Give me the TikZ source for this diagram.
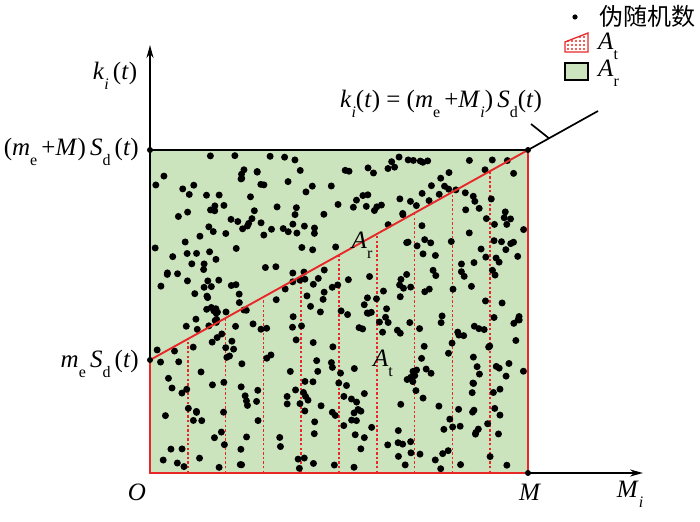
\documentclass[tikz,border=0pt]{standalone}
\usepackage{fontspec}
\setmainfont{Liberation Serif}
\newfontfamily\cjk{Noto Sans CJK SC}
\usetikzlibrary{arrows.meta,calc}
\definecolor{areagreen}{RGB}{204,228,190}
\definecolor{lred}{RGB}{232,40,40}
\newcommand{\sbs}[1]{\raisebox{-0.4em}{\fontsize{16}{16}\selectfont #1}}
\newcommand{\iv}[1]{\textit{#1}}
\begin{document}
\begin{tikzpicture}[x=1pt,y=-1pt,
  lab/.style={font=\fontsize{25}{28}\selectfont, inner sep=0pt},
  axis/.style={line width=1.6pt,-{Stealth[length=13pt,width=7pt]}},
  redline/.style={draw=lred,line width=1.9pt},
  reddot/.style={draw=lred,line width=1.5pt,dash pattern=on 2.4pt off 2.2pt},
  blk/.style={circle,fill=black,inner sep=0pt,minimum size=6pt}]
\useasboundingbox (0,0) rectangle (700,521);
% key points
\coordinate (O) at (150,473);
\coordinate (M) at (528,473);
\coordinate (T) at (528,150);
\coordinate (L) at (150,150);
\coordinate (me) at (150,360);
\coordinate (ext) at (598,111);
\coordinate (ytip) at (150,45);
\coordinate (xtip) at (643,473);
% green area
\fill[areagreen] (L) rectangle (M);
% dotted verticals
\foreach \k in {1,...,9}{
  \draw[reddot] ($(O)!\k/10!(M)$) -- ($(me)!\k/10!(T)$);
}
% random dots (kept clear of the two area labels)
\pgfmathsetseed{2024}
\foreach \i in {1,...,430}{
  \pgfmathsetmacro\px{154+370*rnd}
  \pgfmathsetmacro\py{155+314*rnd}
  \pgfmathtruncatemacro\dskip{((\px>338)&&(\px<386)&&(\py>222)&&(\py<268)) || ((\px>360)&&(\px<406)&&(\py>340)&&(\py<386)) ? 1 : 0}
  \ifnum\dskip=0 \fill (\px,\py) circle (3.5);\fi
}
% boundaries
\draw[line width=2.2pt] (L) -- (T);
\draw[redline] (me) -- (O) -- (M) -- (T);
% axes
\draw[axis] (O) -- (ytip);
\draw[axis] (O) -- (xtip);
\draw[redline] (O) -- (M);
\draw[redline] (me) -- (O);
% line
\draw[redline] (me) -- (T);
\draw[line width=1.7pt] (T) -- (ext);
\coordinate (lp) at ($(T)!0.3!(ext)$);
\coordinate (lq) at (531,124);
\draw[line width=1.7pt] (lp) -- (lq);
% corner markers
\node[blk] at (L) {};
\node[blk] at (me) {};
\node[blk] at (T) {};
\node[blk] at (M) {};
% labels
\node[lab,anchor=center] (ky) at (115,76) {\iv{k}\sbs{\iv{i}}\,(\iv{t})};
\node[lab,anchor=east] (top) at (139,152) {(\iv{m}\sbs{e}\,+\iv{M})\,\iv{S}\sbs{d}\,(\iv{t})};
\node[lab,anchor=east] (mid) at (139,364) {\iv{m}\sbs{e}\,\iv{S}\sbs{d}\,(\iv{t})};
\node[lab] (Olab) at (137,492) {\iv{O}};
\node[lab] (Mlab) at (530,492) {\iv{M}};
\node[lab] (Milab) at (630,494) {\iv{M}\sbs{\iv{i}}};
\node[lab] (eq) at (441,104) {\iv{k}\sbs{\iv{i}}(\iv{t}) = (\iv{m}\sbs{e}\,+\iv{M}\sbs{\iv{i}})\,\iv{S}\sbs{d}(\iv{t})};
\node[lab] (Ar) at (362,245) {\iv{A}\sbs{r}};
\node[lab] (At) at (383,363) {\iv{A}\sbs{t}};
% legend
\fill (575,17) circle (2.6);
\node[font=\cjk\fontsize{24}{26}\selectfont,anchor=west,inner sep=0pt] (lg1) at (599,16) {伪随机数};
\fill[white] (565,42) -- (588,33) -- (588,52) -- (565,52) -- cycle;
\foreach \xx in {568,572,576,580,584}{
  \foreach \yy in {41,45,49}{
    \fill[lred] (\xx,\yy) circle (1.1);
  }
}
\fill[lred] (580,37) circle (1.1);
\fill[lred] (584,37) circle (1.1);
\draw[draw=lred,line width=1.3pt] (565,42) -- (588,33) -- (588,52) -- (565,52) -- cycle;
\node[lab,anchor=west] (lg2) at (598,46) {\iv{A}\sbs{t}};
\draw[fill=areagreen,line width=1.3pt] (565,63) rectangle (588,80);
\node[lab,anchor=west] (lg3) at (598,73) {\iv{A}\sbs{r}};
\end{tikzpicture}
\end{document}
